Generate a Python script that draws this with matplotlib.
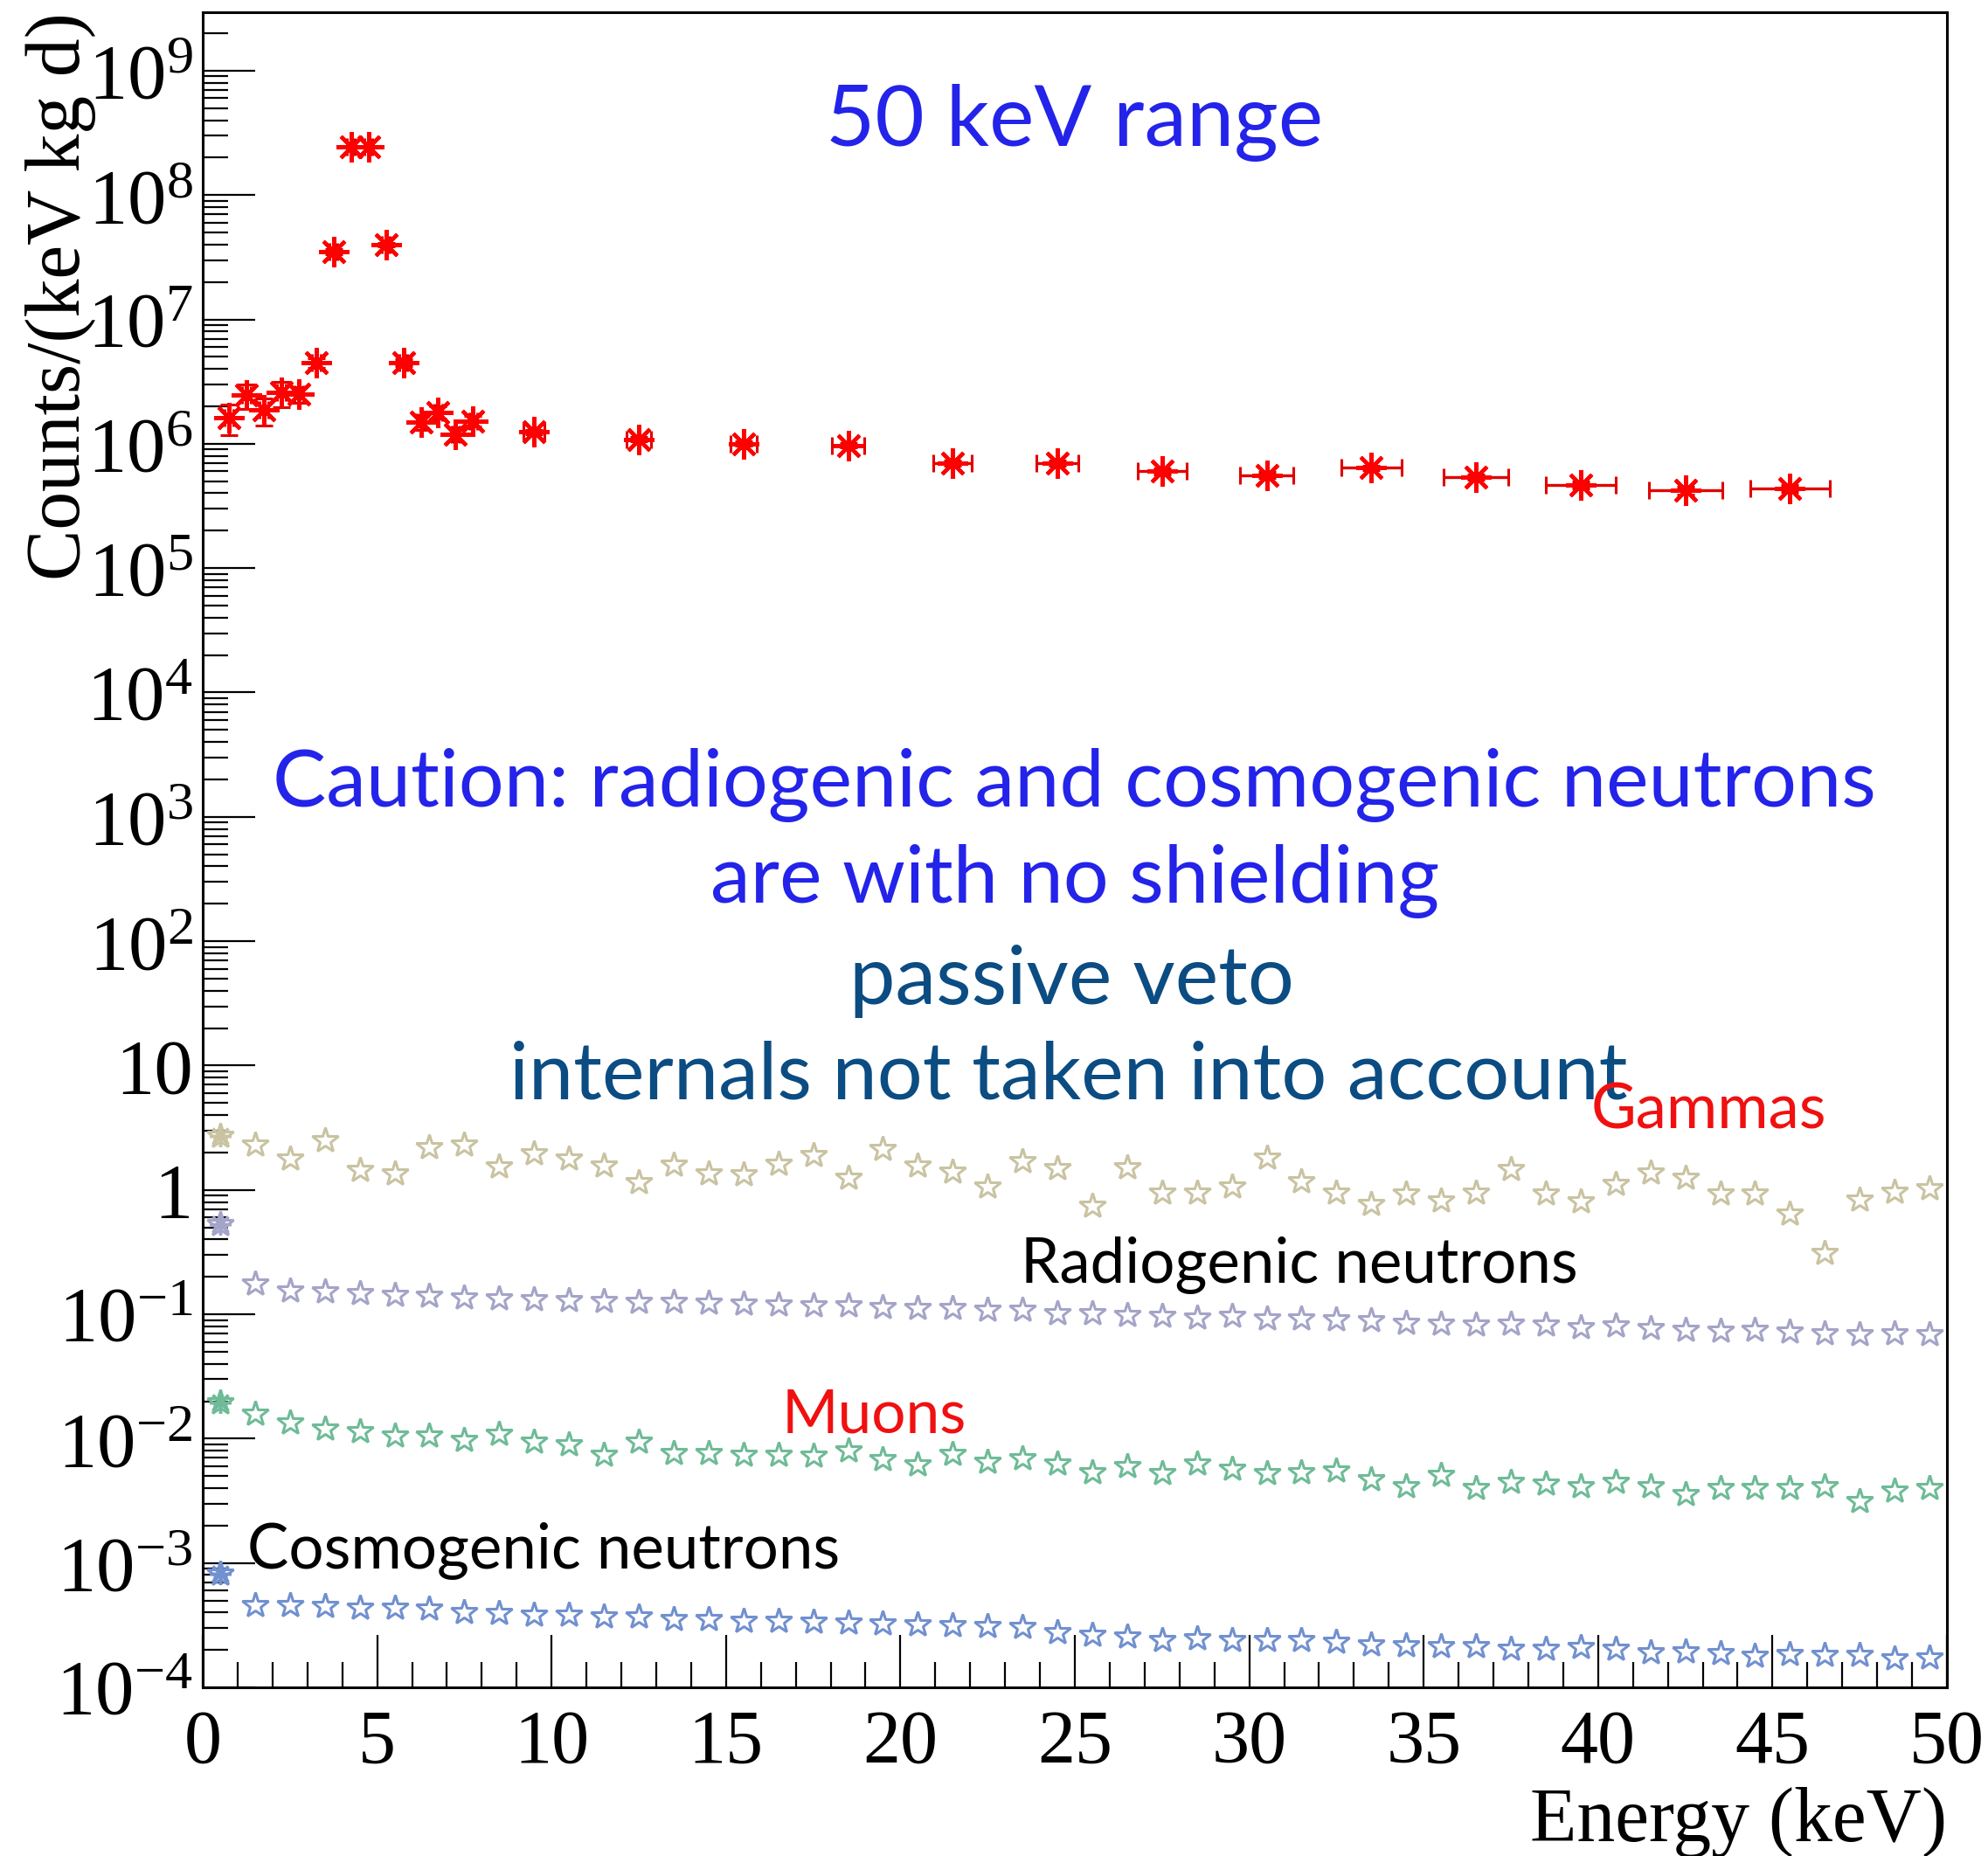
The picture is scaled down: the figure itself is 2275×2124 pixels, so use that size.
import matplotlib
matplotlib.use("Agg")
import matplotlib.pyplot as plt
from matplotlib.ticker import LogLocator, MultipleLocator, FuncFormatter, NullFormatter
import math

plt.rcParams['font.family'] = ['Liberation Serif', 'DejaVu Serif']
plt.rcParams['mathtext.fontset'] = 'custom'
plt.rcParams['mathtext.rm'] = 'Liberation Serif'
plt.rcParams['mathtext.it'] = 'Liberation Serif:italic'

# full 50 keV range spectrum (0.5 keV bins up to 8 keV, 3 keV bins above)
range_energy = [0.75, 1.25, 1.75, 2.25, 2.75, 3.25, 3.75, 4.25, 4.75, 5.25,
                5.75, 6.25, 6.75, 7.25, 7.75,
                9.5, 12.5, 15.5, 18.5, 21.5, 24.5, 27.5, 30.5, 33.5, 36.5,
                39.5, 42.5, 45.5]
range_xerr = [0.12] * 15 + [0.3, 0.36, 0.38, 0.47, 0.55, 0.6, 0.7, 0.76, 0.87,
                            0.92, 1.0, 1.05, 1.14]
range_counts = [1.62e6, 2.45e6, 1.86e6, 2.57e6, 2.5e6, 4.5e6, 3.5e7, 2.45e8,
                2.45e8, 4.0e7, 4.5e6, 1.5e6, 1.8e6, 1.2e6, 1.53e6,
                1.25e6, 1.09e6, 1.0e6, 9.7e5, 7.0e5, 7.0e5, 6.0e5, 5.6e5,
                6.4e5, 5.4e5, 4.7e5, 4.2e5, 4.4e5]
range_yerr = [0.45e6, 0.55e6, 0.45e6, 0.6e6, 0.35e6, 0.4e6, 1.5e6, 5e6,
              5e6, 1.5e6, 0.3e6, 0.2e6, 0.2e6, 0.15e6, 0.15e6,
              0.05e6, 0.04e6, 0.04e6, 0.04e6, 0.03e6, 0.03e6, 0.03e6, 0.03e6,
              0.03e6, 0.03e6, 0.03e6, 0.03e6, 0.03e6]

# 1 keV binned background components
energy = [0.5, 1.5, 2.5, 3.5, 4.5, 5.5, 6.5, 7.5, 8.5, 9.5,
          10.5, 11.5, 12.5, 13.5, 14.5, 15.5, 16.5, 17.5, 18.5, 19.5,
          20.5, 21.5, 22.5, 23.5, 24.5, 25.5, 26.5, 27.5, 28.5, 29.5,
          30.5, 31.5, 32.5, 33.5, 34.5, 35.5, 36.5, 37.5, 38.5, 39.5,
          40.5, 41.5, 42.5, 43.5, 44.5, 45.5, 46.5, 47.5, 48.5, 49.5]

gammas = [2.7, 2.3, 1.79, 2.5, 1.44, 1.35, 2.2, 2.3, 1.55, 1.97,
          1.79, 1.56, 1.15, 1.59, 1.35, 1.34, 1.63, 1.89, 1.25, 2.14,
          1.57, 1.39, 1.06, 1.70, 1.49, 0.74, 1.51, 0.95, 0.95, 1.06,
          1.82, 1.18, 0.95, 0.77, 0.93, 0.82, 0.95, 1.47, 0.93, 0.81,
          1.12, 1.37, 1.25, 0.93, 0.93, 0.64, 0.31, 0.83, 0.97, 1.03]

radiogenic = [0.53, 0.176, 0.156, 0.152, 0.147, 0.144, 0.141, 0.137, 0.133, 0.131,
              0.129, 0.128, 0.126, 0.125, 0.123, 0.121, 0.119, 0.118, 0.118, 0.113,
              0.112, 0.112, 0.108, 0.108, 0.1016, 0.1016, 0.0989, 0.0964, 0.0938, 0.0964,
              0.0922, 0.0922, 0.0902, 0.089, 0.0855, 0.084, 0.082, 0.084, 0.082, 0.0785,
              0.081, 0.0776, 0.0743, 0.0736, 0.0743, 0.0727, 0.0705, 0.069, 0.0705, 0.069]

muons = [0.0196, 0.0158, 0.01345, 0.0121, 0.01145, 0.01055, 0.01055, 0.00973, 0.01084, 0.00948,
         0.00898, 0.00743, 0.00948, 0.00764, 0.0076, 0.00743, 0.00743, 0.00723, 0.00798, 0.00686,
         0.00615, 0.00755, 0.0065, 0.00693, 0.00632, 0.00538, 0.006, 0.00524, 0.00632, 0.00568,
         0.00524, 0.00538, 0.00552, 0.0047, 0.00411, 0.00509, 0.004, 0.00445, 0.00434, 0.00411,
         0.00445, 0.00411, 0.00359, 0.004, 0.004, 0.004, 0.00411, 0.00313, 0.00379, 0.004]

cosmogenic = [8.15e-4, 4.61e-4, 4.56e-4, 4.5e-4, 4.38e-4, 4.33e-4, 4.26e-4, 4.03e-4, 3.97e-4, 3.82e-4,
              3.82e-4, 3.72e-4, 3.72e-4, 3.56e-4, 3.53e-4, 3.43e-4, 3.43e-4, 3.34e-4, 3.3e-4, 3.25e-4,
              3.22e-4, 3.16e-4, 3.08e-4, 3.03e-4, 2.76e-4, 2.62e-4, 2.55e-4, 2.41e-4, 2.48e-4, 2.41e-4,
              2.41e-4, 2.39e-4, 2.31e-4, 2.22e-4, 2.17e-4, 2.15e-4, 2.15e-4, 2.05e-4, 2.05e-4, 2.09e-4,
              2.05e-4, 1.92e-4, 1.94e-4, 1.89e-4, 1.79e-4, 1.84e-4, 1.82e-4, 1.82e-4, 1.70e-4, 1.74e-4]

series = [
    (gammas, '#c9c3a2'),
    (radiogenic, '#a4a4c8'),
    (muons, '#6fbb97'),
    (cosmogenic, '#7190cf'),
]

W, H = 2275, 2124
fig = plt.figure(figsize=(W / 100, H / 100), dpi=100)
ax = fig.add_axes([232 / W, 1 - 1931 / H, (2228 - 232) / W, (1931 - 14) / H])

for values, color in series:
    ax.plot(energy[1:], values[1:], linestyle='none', marker='*', markersize=22,
            markerfacecolor='none', markeredgecolor=color, markeredgewidth=2.2)
    # first bin drawn with a heavier marker
    ax.plot(energy[:1], values[:1], linestyle='none', marker=(8, 2, 0), markersize=18,
            markeredgecolor=color, markeredgewidth=2.5)
    ax.plot(energy[:1], values[:1], linestyle='none', marker='*', markersize=22,
            markerfacecolor='none', markeredgecolor=color, markeredgewidth=2.2)

ax.errorbar(range_energy, range_counts, xerr=range_xerr, yerr=range_yerr,
            fmt='none', ecolor='#e00000', elinewidth=2.4, capsize=7, capthick=2.2)
ax.plot(range_energy, range_counts, linestyle='none', marker=(8, 2, 0), markersize=25,
        markeredgecolor='red', markeredgewidth=3)
ax.plot(range_energy, range_counts, linestyle='none', marker='o', markersize=9,
        color='red')

ax.set_xlim(0, 50)
ax.set_yscale('log')
ax.set_ylim(1e-4, 10 ** 9.47)


def decade_label(v, pos):
    e = int(round(math.log10(v)))
    if e == 0:
        return '1'
    if e == 1:
        return '10'
    return '$10^{%d}$' % e


ax.xaxis.set_major_locator(MultipleLocator(5))
ax.xaxis.set_minor_locator(MultipleLocator(1))
ax.yaxis.set_major_locator(LogLocator(base=10, numticks=30))
ax.yaxis.set_minor_locator(LogLocator(base=10, subs=range(2, 10), numticks=30))
ax.yaxis.set_major_formatter(FuncFormatter(decade_label))
ax.yaxis.set_minor_formatter(NullFormatter())

ax.tick_params(which='both', direction='in', top=False, right=False, width=1.6, color='black')
ax.tick_params(which='major', length=43)
ax.tick_params(which='minor', length=21)
ax.tick_params(axis='x', which='major', labelsize=62, pad=18)
ax.tick_params(axis='y', which='major', labelsize=64, pad=8)
for s in ax.spines.values():
    s.set_linewidth(2.2)

fig.text(2228 / W, 1 - 2085 / H, 'Energy (keV)', fontsize=63, ha='right', va='center')
fig.text(70 / W, 1 - 14 / H, 'Counts/(keV kg d)', fontsize=63, rotation=90,
         ha='center', va='top')

# annotations
sans = ['Lato', 'DejaVu Sans']
blue = '#2323ea'
navy = '#0b4c82'
fig.text(1230 / W, 1 - 167 / H, '50 keV range', fontsize=70, color=blue,
         ha='center', va='baseline', family=sans)
fig.text(1229 / W, 1 - 923 / H, 'Caution: radiogenic and cosmogenic neutrons',
         fontsize=66, color=blue, ha='center', va='baseline', family=sans)
fig.text(1230 / W, 1 - 1033 / H, 'are with no shielding', fontsize=66, color=blue,
         ha='center', va='baseline', family=sans)
fig.text(1226 / W, 1 - 1149 / H, 'passive veto', fontsize=67.5, color=navy,
         ha='center', va='baseline', family=sans)
fig.text(1223 / W, 1 - 1257 / H, 'internals not taken into account', fontsize=66,
         color=navy, ha='center', va='baseline', family=sans)
fig.text(1821 / W, 1 - 1291 / H, 'Gammas', fontsize=51, color='#f01010',
         ha='left', va='baseline', family=sans)
fig.text(1168 / W, 1 - 1468 / H, 'Radiogenic neutrons', fontsize=51, color='black',
         ha='left', va='baseline', family=sans)
fig.text(895 / W, 1 - 1640 / H, 'Muons', fontsize=50, color='#f01010',
         ha='left', va='baseline', family=sans)
fig.text(283 / W, 1 - 1795 / H, 'Cosmogenic neutrons', fontsize=51, color='black',
         ha='left', va='baseline', family=sans)

fig.savefig('out.png', dpi=100)
